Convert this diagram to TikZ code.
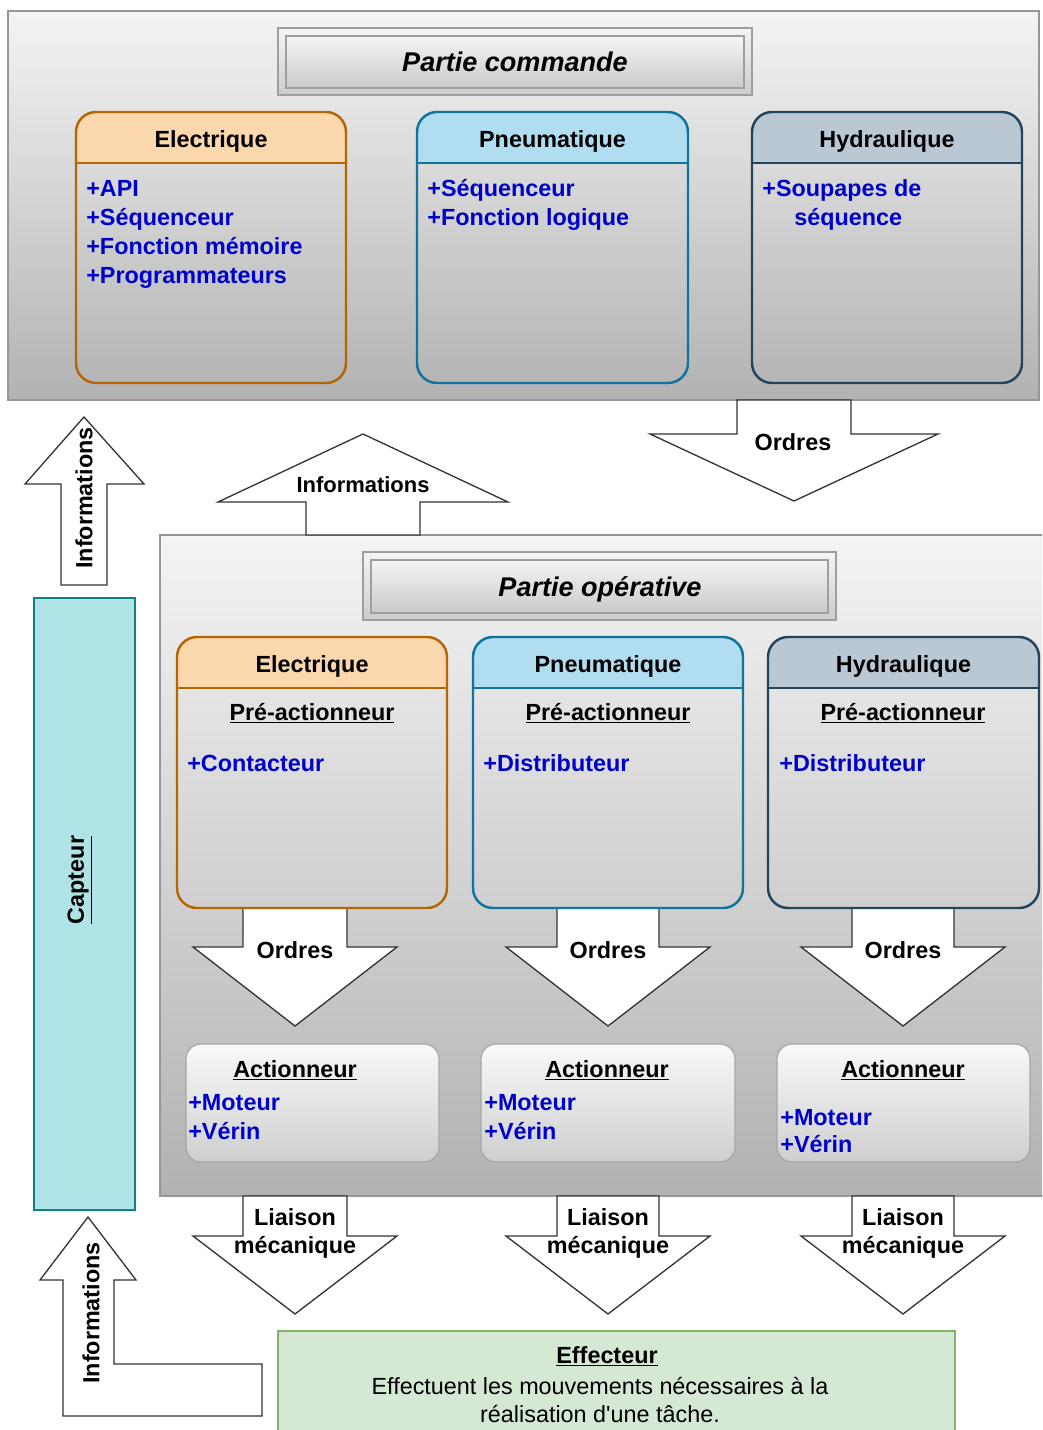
\documentclass[tikz,border=0pt]{standalone}
\usepackage{fontspec}
\setmainfont{Liberation Sans}

\definecolor{bluetxt}{RGB}{0,0,204}
\definecolor{bgtop}{RGB}{244,244,244}
\definecolor{bgbot}{RGB}{178,178,178}
\definecolor{framegray}{RGB}{150,150,150}
\definecolor{elfill}{HTML}{FAD7AC}
\definecolor{elline}{HTML}{B46504}
\definecolor{pnfill}{HTML}{B1DDF0}
\definecolor{pnline}{HTML}{10739E}
\definecolor{hyfill}{HTML}{BAC8D3}
\definecolor{hyline}{HTML}{23445D}
\definecolor{capfill}{HTML}{B0E3E6}
\definecolor{capline}{HTML}{0E8088}
\definecolor{effill}{HTML}{D5E8D4}
\definecolor{efline}{HTML}{82B366}
\definecolor{arrline}{RGB}{51,51,51}

\newcommand\szn{\fontsize{13.3}{16}\selectfont}
\newcommand\szs{\fontsize{12.5}{15}\selectfont}
\newcommand\szt{\fontsize{15.4}{18}\selectfont}
% straight apostrophe, placed as a glyph so no quote ligature applies
\newcommand\straightquote{\XeTeXglyph\XeTeXcharglyph"0027\relax}

% swimlane: name, x1, y1, x2, y2, y of header divider, header fill, line colour, title
\newcommand\lane[9]{%
  \begin{scope}
    \clip[rounded corners=0.4cm] (#2,#3) rectangle (#4,#5);
    \fill[#7] (#2,#3) rectangle (#4,#6);
  \end{scope}
  \draw[#8, line width=1.4pt, rounded corners=0.4cm] (#2,#3) rectangle (#4,#5);
  \draw[#8, line width=1.4pt] (#2,#6) -- (#4,#6);
  \node[lbl, anchor=base] (#1) at ({(#2+#4)/2},{#6-16}) {#9};
}
% downward block arrow: centre x, top y, shaft half width, head y, head half width, tip y
\newcommand\blockdown[6]{%
  \filldraw[blockarrow] ({#1-#3},#2) -- ({#1+#3},#2) -- ({#1+#3},#4) -- ({#1+#5},#4)
    -- (#1,#6) -- ({#1-#5},#4) -- ({#1-#3},#4) -- cycle;
}
% title plate with a double frame
\newcommand\plate[4]{%
  \shadedraw[top color=gray!8, bottom color=gray!40, draw=gray!75, line width=0.8pt] (#1,#2) rectangle (#3,#4);
  \shadedraw[top color=gray!8, bottom color=gray!42, draw=gray!75, line width=0.8pt] ({#1+8},{#2+8}) rectangle ({#3-8},{#4-7});
}

\begin{document}
\begin{tikzpicture}[x=0.02cm, y=-0.02cm,
  lbl/.style={font=\szn\bfseries, inner sep=0pt},
  item/.style={lbl, text=bluetxt, anchor=base west},
  ptitle/.style={font=\szt\bfseries\itshape, inner sep=0pt, anchor=base},
  blockarrow/.style={fill=white, draw=arrline, line width=0.75pt, line join=miter},
  actbox/.style={top color=gray!5, bottom color=gray!38, draw=gray!70, line width=0.7pt, rounded corners=0.3cm}]
\useasboundingbox (0,0) rectangle (1042,1430);
\clip (0,0) rectangle (1042,1430);

% ---------- Partie commande ----------
\shadedraw[top color=bgtop, bottom color=bgbot, draw=framegray, line width=0.8pt] (8,11) rectangle (1039,400);
\plate{278}{28}{752}{95}
\node[ptitle] (pc) at (515,71) {Partie commande};

\lane{ce}{76}{112}{346}{383}{163}{elfill}{elline}{Electrique}
\lane{cp}{417}{112}{688}{383}{163}{pnfill}{pnline}{Pneumatique}
\lane{ch}{752}{112}{1022}{383}{163}{hyfill}{hyline}{Hydraulique}

\node[item] (ce1) at (86,196) {+API};
\node[item] (ce2) at (86,225) {+Séquenceur};
\node[item] (ce3) at (86,254) {+Fonction mémoire};
\node[item] (ce4) at (86,283) {+Programmateurs};
\node[item] (cp1) at (427,196) {+Séquenceur};
\node[item] (cp2) at (427,225) {+Fonction logique};
\node[item] (ch1) at (762,196) {+Soupapes de};
\node[item] (ch2) at (794,225) {séquence};

% orders sent to the operative part
\blockdown{794}{400}{57}{434}{144}{501}
\node[lbl, anchor=base] (ordres0) at (793,450) {Ordres};

% information coming back from the sensor
\filldraw[blockarrow] (84,417) -- (144,484) -- (107,484) -- (107,585) -- (61,585) -- (61,484) -- (25,484) -- cycle;
\node[lbl, rotate=90] (infoA) at (84,498) {Informations};

% ---------- Partie opérative ----------
\shadedraw[top color=bgtop, bottom color=bgbot, draw=framegray, line width=0.8pt] (160,535) rectangle (1060,1196);
\plate{363}{552}{836}{620}
\node[ptitle] (po) at (600,596) {Partie opérative};

\filldraw[blockarrow] (363,434) -- (508,502) -- (420,502) -- (420,535) -- (306,535) -- (306,502) -- (218,502) -- cycle;
\node[font=\szs\bfseries, inner sep=0pt, anchor=base] (infoB) at (363,492) {Informations};

% orders from pre-actuators to actuators
\blockdown{295}{908}{52}{947}{102}{1026}
\blockdown{608}{908}{51}{947}{102}{1026}
\blockdown{903}{908}{51}{947}{102}{1026}
\node[lbl, anchor=base] (ordres1) at (295,958) {Ordres};
\node[lbl, anchor=base] (ordres2) at (608,958) {Ordres};
\node[lbl, anchor=base] (ordres3) at (903,958) {Ordres};

\lane{oe}{177}{637}{447}{908}{688}{elfill}{elline}{Electrique}
\lane{op}{473}{637}{743}{908}{688}{pnfill}{pnline}{Pneumatique}
\lane{oh}{768}{637}{1039}{908}{688}{hyfill}{hyline}{Hydraulique}

\node[lbl, anchor=base] (pre1) at (312,720) {\underline{Pré-actionneur}};
\node[lbl, anchor=base] (pre2) at (608,720) {\underline{Pré-actionneur}};
\node[lbl, anchor=base] (pre3) at (903,720) {\underline{Pré-actionneur}};
\node[item] (oe1) at (187,771) {+Contacteur};
\node[item] (op1) at (483,771) {+Distributeur};
\node[item] (oh1) at (779,771) {+Distributeur};

% actuators
\shadedraw[actbox] (186,1044) rectangle (439,1162);
\shadedraw[actbox] (481,1044) rectangle (735,1162);
\shadedraw[actbox] (777,1044) rectangle (1030,1162);
\node[lbl, anchor=base] (act1) at (295,1077) {\underline{Actionneur}};
\node[lbl, anchor=base] (act2) at (607,1077) {\underline{Actionneur}};
\node[lbl, anchor=base] (act3) at (903,1077) {\underline{Actionneur}};
\node[item] (a1m) at (188,1110) {+Moteur};
\node[item] (a1v) at (188,1139) {+Vérin};
\node[item] (a2m) at (484,1110) {+Moteur};
\node[item] (a2v) at (484,1139) {+Vérin};
\node[item] (a3m) at (780,1125) {+Moteur};
\node[item] (a3v) at (780,1152) {+Vérin};

% mechanical links to the effectors
\blockdown{295}{1196}{52}{1236}{102}{1314}
\blockdown{608}{1196}{51}{1236}{102}{1314}
\blockdown{903}{1196}{51}{1236}{102}{1314}
\foreach \cx/\k in {295/1, 608/2, 903/3} {
  \node[lbl, anchor=base] (lia\k) at (\cx,1225) {Liaison};
  \node[lbl, anchor=base] (mec\k) at (\cx,1253) {mécanique};
}

% ---------- sensor ----------
\filldraw[fill=capfill, draw=capline, line width=0.8pt] (34,598) rectangle (135,1210);
\node[lbl, rotate=90] (capteur) at (80,880) {\underline{Capteur}};

\filldraw[blockarrow] (88,1217) -- (136,1280) -- (114,1280) -- (114,1364) -- (262,1364)
  -- (262,1416) -- (63,1416) -- (63,1280) -- (40,1280) -- cycle;
\node[lbl, rotate=90] (infoC) at (91,1313) {Informations};

% ---------- effector ----------
\filldraw[fill=effill, draw=efline, line width=0.8pt] (278,1331) rectangle (955,1450);
\node[lbl, anchor=base] (eff) at (607,1363) {\underline{Effecteur}};
\node[font=\szn, inner sep=0pt, anchor=base] (eff1) at (600,1394) {Effectuent les mouvements nécessaires à la};
\node[font=\szn, inner sep=0pt, anchor=base] (eff2) at (600,1422) {réalisation d\straightquote une tâche.};
\end{tikzpicture}
\end{document}
